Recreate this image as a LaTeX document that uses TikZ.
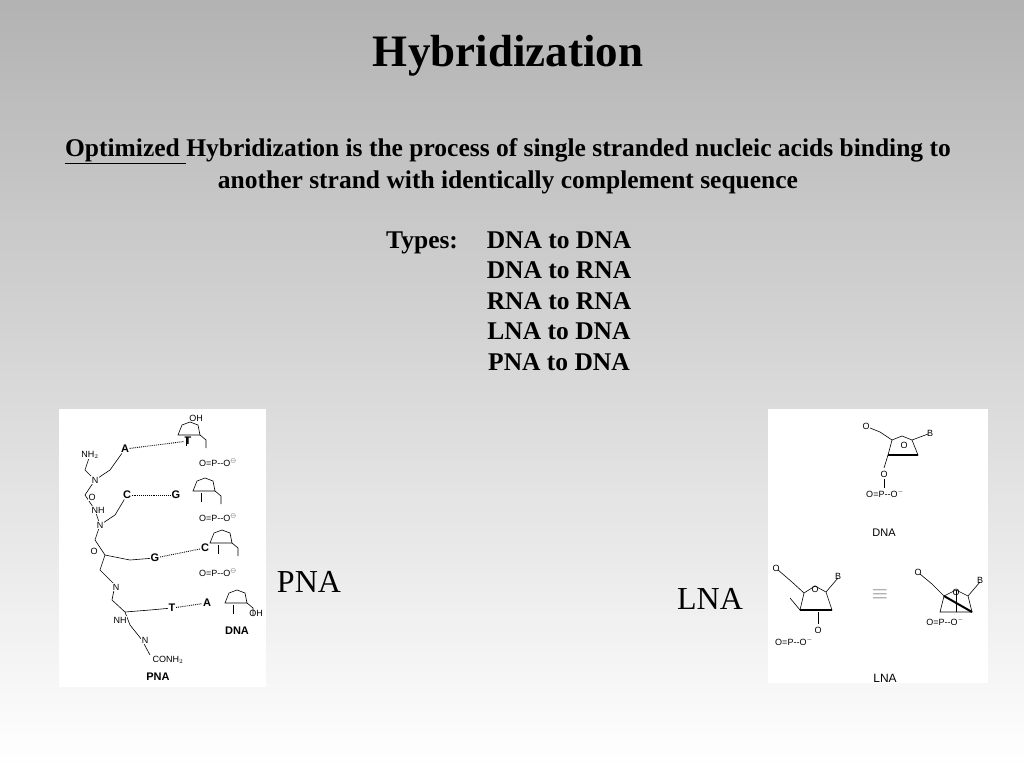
\documentclass[tikz,border=0pt]{standalone}
\usepackage{fontspec}
\setmainfont{Liberation Serif}
\newfontfamily\chem{Liberation Sans}
\begin{document}
\begin{tikzpicture}[x=1pt,y=-1pt,
  body/.style={font=\fontsize{25.5}{30.5}\selectfont\bfseries,inner sep=0},
  ch/.style={font=\chem\fontsize{9}{10}\selectfont,inner sep=0.5},
  chb/.style={font=\chem\fontsize{11}{12}\selectfont\bfseries,inner sep=0.5},
  bond/.style={line width=0.6pt},
  hb/.style={densely dotted,line width=0.9pt}]
\shade[top color=black!30,bottom color=white] (0,0) rectangle (1024,768);
\useasboundingbox (0,0) rectangle (1024,768);
\node[font=\fontsize{45}{50}\selectfont\bfseries] (title) at (508,56) {Hybridization};
\node[body] (l1) at (508,151) {\underline{Optimized }Hybridization is the process of single stranded nucleic acids binding to};
\node[body] (l2) at (508,182) {another strand with identically complement sequence};
\node[body,anchor=west] (types) at (386,243) {Types:};
\node[body,align=center,anchor=north] (list) at (559,231) {DNA to DNA\\DNA to RNA\\RNA to RNA\\LNA to DNA\\PNA to DNA};
% left image
\node[fill=white,minimum width=207,minimum height=278,inner sep=0,anchor=north west] (imgL) at (59,409) {};
\foreach \cx/\cy in {190/432,205/488,222/540,237/600}{
  \draw[bond] (\cx-12,\cy+3) -- (\cx-8,\cy-7) -- (\cx,\cy-10) -- (\cx+8,\cy-7) -- (\cx+10,\cy+3) -- cycle;
  \draw[bond] (\cx+10,\cy+3) -- (\cx+16,\cy+8) -- (\cx+16,\cy+16);
  \draw[bond] (\cx-4,\cy+5) -- (\cx-4,\cy+14);
}
\node[ch] at (196,418) {OH};
\node[ch] at (256,613) {OH};
\foreach \py in {463,518,573}{\node[ch] at (218,\py) {O=P--O$^{\ominus}$};}
\node[chb] (a1) at (125,449) {A}; \node[chb] (t1) at (188,441) {T}; \draw[hb] (a1) -- (t1);
\node[chb] (c1) at (127,495) {C}; \node[chb] (g1) at (176,495) {G}; \draw[hb] (c1) -- (g1);
\node[chb] (g2) at (155,558) {G}; \node[chb] (c2) at (205,548) {C}; \draw[hb] (g2) -- (c2);
\node[chb] (t2) at (172,608) {T}; \node[chb] (a2) at (207,603) {A}; \draw[hb] (t2) -- (a2);
\draw[bond] (90,455) -- (85,470) -- (95,480) -- (85,495) -- (95,510) -- (100,525) -- (95,540) -- (105,555) -- (100,570) -- (115,585) -- (112,600) -- (125,612) -- (130,625) -- (142,640) -- (150,655);
\draw[bond] (95,480) -- (110,470) -- (a1); \draw[bond] (100,525) -- (115,515) -- (c1);
\draw[bond] (105,555) -- (130,560) -- (g2); \draw[bond] (125,612) -- (150,610) -- (t2);
\node[ch,fill=white] at (90,455) {NH$_2$};
\node[ch,fill=white] at (95,480) {N}; \node[ch,fill=white] at (100,525) {N};
\node[ch,fill=white] at (92,497) {O}; \node[ch,fill=white] at (94,551) {O};
\node[ch,fill=white] at (98,510) {NH}; \node[ch,fill=white] at (116,587) {N};
\node[ch,fill=white] at (120,620) {NH}; \node[ch,fill=white] at (145,640) {N};
\node[ch] at (168,660) {CONH$_2$};
\node[chb] at (237,631) {DNA};
\node[chb] at (158,677) {PNA};
\node[font=\fontsize{32}{36}\selectfont] (pna) at (309,582) {PNA};
% right image
\node[fill=white,minimum width=220,minimum height=274,inner sep=0,anchor=north west] (imgR) at (768,409) {};
\draw[bond] (888,455) -- (892,440) -- (902,436) -- (912,440) -- (918,455) -- cycle;
\draw[bond,line width=2pt] (888,455) -- (918,455);
\draw[bond] (912,440) -- (928,434); \draw[bond] (892,440) -- (880,432) -- (870,428);
\draw[bond] (888,455) -- (884,468); \draw[bond] (884,479) -- (884,488);
\node[ch] at (904,445) {O}; \node[ch] at (930,433) {B};
\node[ch] at (866,426) {O}; \node[ch] at (884,474) {O};
\node[ch] at (885,494) {O=P--O$^-$};
\node[ch,font=\chem\fontsize{11}{12}\selectfont] at (884,533) {DNA};
\draw[bond] (800,610) -- (804,593) -- (815,586) -- (826,592) -- (832,610) -- cycle;
\draw[bond,line width=2pt] (800,610) -- (832,610);
\draw[bond] (826,592) -- (838,578); \draw[bond] (804,593) -- (792,582) -- (778,570);
\draw[bond] (800,610) -- (790,598); \draw[bond] (818,612) -- (818,624);
\node[ch] at (815,589) {O}; \node[ch] at (838,576) {B};
\node[ch] at (776,568) {O}; \node[ch] at (818,630) {O};
\node[ch] at (794,642) {O=P--O$^-$};
\node[font=\chem\fontsize{20}{20}\selectfont,text=black!50] at (880,595) {$\equiv$};
\draw[bond] (940,612) -- (944,596) -- (956,590) -- (968,596) -- (972,612) -- cycle;
\draw[bond,line width=2pt] (944,596) -- (972,612);
\draw[bond] (968,596) -- (980,582); \draw[bond] (944,596) -- (932,584) -- (920,574);
\draw[bond] (956,590) -- (956,612);
\node[ch] at (956,592) {O}; \node[ch] at (980,580) {B};
\node[ch] at (918,572) {O}; \node[ch] at (945,622) {O=P--O$^-$};
\node[ch,font=\chem\fontsize{12}{13}\selectfont] at (885,678) {LNA};
\node[font=\fontsize{32}{36}\selectfont] (lna) at (710,599) {LNA};
\end{tikzpicture}
\end{document}
